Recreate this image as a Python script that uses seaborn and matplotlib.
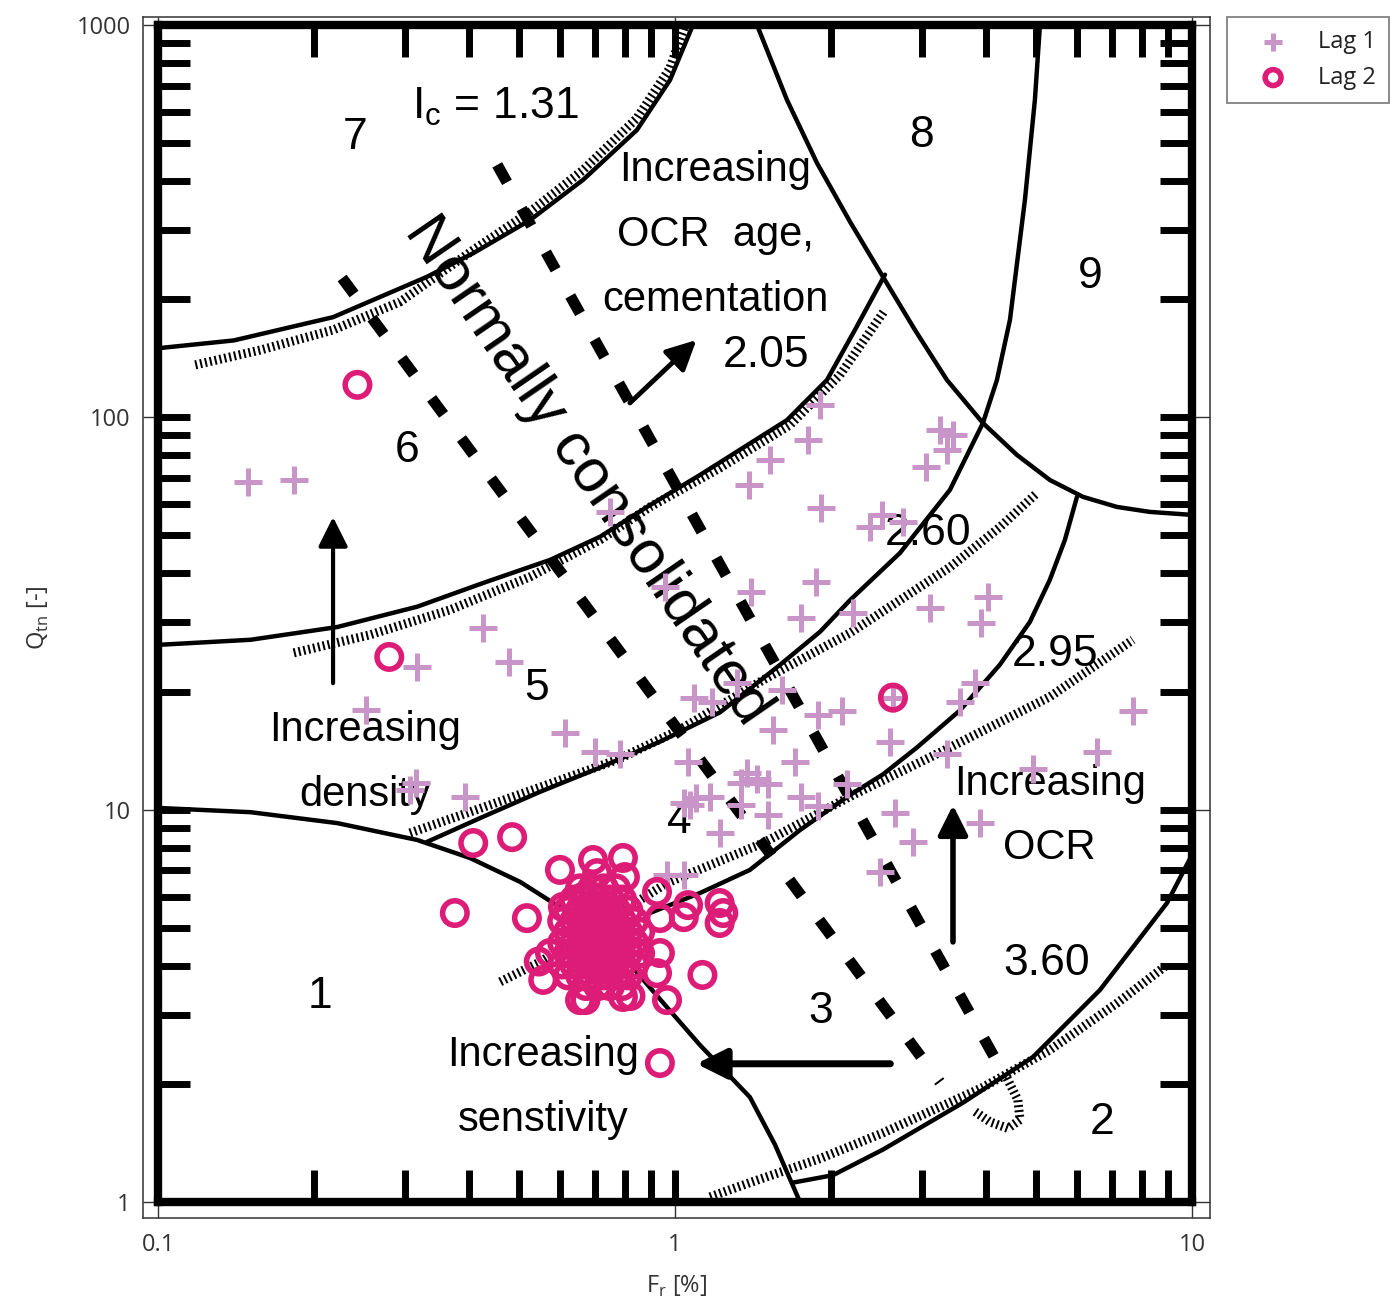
import matplotlib
matplotlib.use("Agg")
import matplotlib.pyplot as plt
from matplotlib.ticker import FixedLocator, NullLocator, FixedFormatter
import seaborn as sns

sns.set_style("white")
plt.rcParams["font.family"] = ["Open Sans", "DejaVu Sans"]

# ---- CPT data: friction ratio Fr [%] and normalised cone resistance Qtn [-]
lag1_fr = [0.149, 0.183, 0.253, 0.317, 0.425, 0.478, 0.307, 0.316, 0.393, 0.613,
           0.700, 0.783, 0.749, 0.956, 1.91, 1.81, 1.53, 1.39, 1.92, 2.38,
           2.51, 2.76, 3.25, 3.45, 3.36, 3.06, 1.40, 1.87, 1.75, 2.21,
           3.11, 4.03, 3.91, 1.32, 1.61, 1.09, 1.18, 1.55, 1.89, 2.10,
           2.64, 3.80, 3.56, 2.61, 3.36, 4.93, 6.55, 7.69, 1.06, 1.71,
           1.38, 1.44, 1.34, 1.51, 1.75, 1.89, 2.15, 1.51, 1.34, 1.04,
           1.10, 1.17, 1.22, 2.67, 2.89, 3.89, 2.49, 0.965, 1.04, 1.07]
lag1_qtn = [68.4, 69.2, 17.9, 23.1, 29.0, 23.8, 11.2, 11.7, 10.8, 15.7,
            14.0, 13.9, 57.4, 36.9, 107.5, 87.5, 77.8, 67.2, 58.7, 52.5,
            56.4, 54.1, 92.8, 90.1, 82.5, 74.7, 35.9, 38.0, 30.8, 31.7,
            32.7, 34.8, 29.9, 21.0, 20.2, 19.3, 18.8, 16.0, 17.4, 17.8,
            19.3, 21.0, 18.8, 14.9, 13.9, 12.7, 14.0, 17.8, 13.2, 13.2,
            12.4, 12.0, 11.7, 11.6, 10.8, 10.2, 11.6, 9.69, 10.3, 10.4,
            10.7, 10.8, 8.72, 9.80, 8.27, 9.24, 6.93, 6.81, 6.81, 10.3]

lag2_fr = [0.243, 0.280, 0.407, 0.484, 0.375, 0.517, 2.64, 0.935, 0.965, 1.13,
           1.06, 1.04, 1.22, 1.24, 1.22, 0.923, 0.935, 0.935, 0.923, 0.599,
           0.694, 0.793, 0.707, 0.800, 0.556, 0.655, 0.671, 0.793, 0.573, 0.607,
           0.664, 0.820, 0.545,
           0.655, 0.691, 0.729, 0.769,
           0.638, 0.673, 0.710, 0.749, 0.790,
           0.621, 0.655, 0.691, 0.729, 0.769, 0.812,
           0.605, 0.638, 0.673, 0.710, 0.749, 0.790, 0.834,
           0.621, 0.655, 0.691, 0.729, 0.769, 0.812, 0.856,
           0.605, 0.638, 0.673, 0.710, 0.749, 0.790, 0.834,
           0.621, 0.655, 0.691, 0.729, 0.769, 0.812, 0.856,
           0.605, 0.638, 0.673, 0.710, 0.749, 0.790, 0.834,
           0.621, 0.655, 0.691, 0.729, 0.769, 0.812,
           0.673, 0.710, 0.749, 0.790]
lag2_qtn = [121, 24.5, 8.22, 8.51, 5.45, 5.29, 19.3, 2.26, 3.27, 3.79,
            5.71, 5.32, 5.78, 5.45, 5.14, 6.17, 5.29, 4.31, 3.83, 7.02,
            7.44, 7.53, 6.89, 6.73, 3.68, 3.27, 3.27, 3.33, 4.31, 5.65,
            5.99, 3.35, 4.10,
            6.30, 6.30, 6.30, 6.30,
            5.90, 5.90, 5.90, 5.90, 5.90,
            5.55, 5.55, 5.55, 5.55, 5.55, 5.55,
            5.20, 5.20, 5.20, 5.20, 5.20, 5.20, 5.20,
            4.88, 4.88, 4.88, 4.88, 4.88, 4.88, 4.88,
            4.58, 4.58, 4.58, 4.58, 4.58, 4.58, 4.58,
            4.30, 4.30, 4.30, 4.30, 4.30, 4.30, 4.30,
            4.03, 4.03, 4.03, 4.03, 4.03, 4.03, 4.03,
            3.78, 3.78, 3.78, 3.78, 3.78, 3.78,
            3.55, 3.55, 3.55, 3.55]

# ---- background classification chart (solid zone boundaries)
bound_7_fr = [0.1, 0.140, 0.218, 0.331, 0.407, 0.524, 0.664, 0.844, 0.978, 1.083]
bound_7_q = [150, 157, 180, 228, 262, 318, 403, 540, 724, 1000]
bound_6_fr = [0.1, 0.151, 0.222, 0.317, 0.425, 0.573, 0.716, 0.883, 1.118, 1.647, 1.968, 2.229, 2.548]
bound_6_q = [26.3, 27.1, 29.2, 32.9, 37.8, 43.3, 49.6, 59.1, 71.3, 98.4, 124.5, 167, 231]
bound_5_fr = [0.331, 0.420, 0.548, 0.716, 0.935, 1.222, 1.597, 1.908, 2.181, 2.724, 3.403,
              3.942, 4.196, 4.446, 4.753, 4.969, 5.082]
bound_5_q = [8.27, 9.52, 11.1, 12.8, 14.9, 17.7, 23.4, 28.4, 34.2, 45.1, 65.3,
             96.7, 124.5, 177, 358, 644, 1000]
bound_4_fr = [5.994, 5.68, 5.31, 4.86, 4.25, 3.558, 2.938, 2.526, 2.181, 1.745, 1.396, 1.118, 0.875]
bound_4_q = [62.7, 48.7, 38.5, 30.1, 23.4, 17.9, 14.4, 12.3, 10.9, 8.87, 7.02, 6.13, 5.39]
bound_1_fr = [0.1, 0.151, 0.222, 0.317, 0.401, 0.502, 0.628, 0.783, 0.956, 1.118, 1.396, 1.561, 1.745]
bound_1_q = [10.1, 9.85, 9.24, 8.37, 7.53, 6.54, 5.42, 4.31, 3.18, 2.51, 1.85, 1.40, 1.0]
bound_2_fr = [1.691, 2.021, 2.526, 3.606, 4.925, 6.64, 8.95, 10.0]
bound_2_q = [1.12, 1.17, 1.36, 1.79, 2.34, 3.47, 5.78, 7.66]
bound_8_fr = [1.441, 1.647, 1.882, 2.181, 2.526, 2.912, 3.358, 3.942, 4.586, 5.313,
              6.155, 7.16, 8.29, 10.0]
bound_8_q = [1000, 644, 445, 315, 228, 167, 124.5, 96.7, 80.2, 69.2,
             62.7, 59.1, 57.4, 56.4]

# hatched Ic contours
ic131_fr = [0.118, 0.158, 0.218, 0.294, 0.331, 0.407, 0.524, 0.664, 0.844, 0.978, 1.041]
ic131_q = [136, 148.5, 167, 197, 220, 267, 334, 427, 579, 777, 983]
ic205_fr = [0.183, 0.257, 0.367, 0.524, 0.716, 0.895, 1.222, 1.669, 2.085, 2.548]
ic205_q = [25.1, 27.9, 32.3, 39.2, 48.7, 59.1, 74.3, 95.6, 128.2, 187.7]
ic260_fr = [0.307, 0.401, 0.548, 0.773, 1.023, 1.48, 2.181, 2.724, 3.403, 4.252, 5.014]
ic260_q = [8.72, 9.86, 11.4, 13.4, 16.0, 21.4, 28.2, 34.2, 41.5, 52.5, 64.1]
ic295_fr = [0.459, 0.548, 0.716, 0.965, 1.169, 1.48, 2.181, 3.403, 5.313, 7.69]
ic295_q = [3.64, 4.09, 5.08, 6.50, 7.22, 8.22, 10.8, 14.4, 19.4, 27.1]
ic360_fr = [1.169, 1.396, 1.908, 2.526, 3.942, 5.313, 7.16, 8.95]
ic360_q = [1.03, 1.12, 1.29, 1.50, 1.96, 2.44, 3.21, 4.02]
curl_fr = [4.386, 4.606, 4.65, 4.406, 4.067, 3.804]
curl_q = [2.07, 1.82, 1.62, 1.54, 1.60, 1.70]

# normally consolidated band (thick dashed)
nc_fr = [[0.227, 3.254], [0.453, 4.386]]
nc_q = [[226.5, 2.02], [440, 2.05]]

zone_labels = ["1", "2", "3", "4", "5", "6", "7", "8", "9"]
zone_fr = [0.206, 6.70, 1.91, 1.02, 0.541, 0.303, 0.240, 3.00, 6.35]
zone_q = [3.33, 1.59, 3.05, 9.30, 20.4, 82.5, 518, 524, 228]

ic_labels = ["I$_\\mathregular{c}$ = 1.31", "2.05", "2.60", "2.95", "3.60"]
ic_fr = [0.4485, 1.50, 3.09, 5.43, 5.24]
ic_q = [620, 144, 50.7, 24.8, 4.06]

note_labels = ["Increasing\nOCR  age,\ncementation", "Increasing\ndensity",
               "Increasing\nOCR", "Increasing\nsenstivity"]
note_fr = [1.195, 0.251, 5.31, 0.556]
note_q = [292, 13.2, 9.63, 1.96]

arrow_tail_fr = [0.218, 0.818, 2.61, 3.45]
arrow_tail_q = [21.0, 108.8, 2.25, 4.60]
arrow_tip_fr = [0.218, 1.10, 1.10, 3.45]
arrow_tip_q = [55.7, 157.4, 2.25, 10.27]
arrow_lw = [3.0, 3.5, 5.0, 4.0]

frame_x_ticks = [0.2, 0.3, 0.4, 0.5, 0.6, 0.7, 0.8, 0.9, 1, 2, 3, 4, 5, 6, 7, 8, 9]
frame_y_ticks = [2, 3, 4, 5, 6, 7, 8, 9, 10, 20, 30, 40, 50, 60, 70, 80, 90,
                 100, 200, 300, 400, 500, 600, 700, 800, 900]

chart_font = ["Liberation Sans", "DejaVu Sans"]
c_lag1 = "#c994c7"
c_lag2 = "#dd1c77"

fig = plt.figure(figsize=(13.94, 13.08), dpi=100)
ax = fig.add_axes([0.1026, 0.0688, 0.7654, 0.9182])
ax.set_xscale("log")
ax.set_yscale("log")
ax.set_xlim(0.0935, 10.84)
ax.set_ylim(0.91, 1048)

# thick frame of the background chart
frame = ax.inset_axes([0.1, 1, 9.9, 999], transform=ax.transData, zorder=1.5)
frame.set_xscale("log")
frame.set_yscale("log")
frame.set_xlim(0.1, 10)
frame.set_ylim(1, 1000)
frame.patch.set_visible(False)
for sp in frame.spines.values():
    sp.set_linewidth(6)
    sp.set_color("black")
frame.xaxis.set_major_locator(FixedLocator(frame_x_ticks))
frame.xaxis.set_minor_locator(NullLocator())
frame.yaxis.set_major_locator(FixedLocator(frame_y_ticks))
frame.yaxis.set_minor_locator(NullLocator())
frame.tick_params(direction="in", length=23, width=5, color="black",
                  bottom=True, left=True, top=True, right=True,
                  labelbottom=False, labelleft=False)

# solid boundaries
for fr, q in [(bound_7_fr, bound_7_q), (bound_6_fr, bound_6_q), (bound_5_fr, bound_5_q),
              (bound_4_fr, bound_4_q), (bound_1_fr, bound_1_q), (bound_2_fr, bound_2_q),
              (bound_8_fr, bound_8_q)]:
    ax.plot(fr, q, color="black", lw=3.2, zorder=2, solid_joinstyle="round")

# hatched Ic lines
for fr, q in [(ic131_fr, ic131_q), (ic205_fr, ic205_q), (ic260_fr, ic260_q),
              (ic295_fr, ic295_q), (ic360_fr, ic360_q), (curl_fr, curl_q)]:
    ax.plot(fr, q, color="black", lw=6.5, linestyle=(0, (0.22, 0.33)),
            dash_capstyle="butt", zorder=2)

for fr, q in zip(nc_fr, nc_q):
    ax.plot(fr, q, color="black", lw=8, linestyle=(0, (1.8, 2.7)),
            dash_capstyle="butt", zorder=2)

for s, x, y in zip(zone_labels, zone_fr, zone_q):
    ax.text(x, y, s, fontsize=32, family=chart_font, color="black",
            ha="center", va="center", zorder=3)
for s, x, y in zip(ic_labels, ic_fr, ic_q):
    ax.text(x, y, s, fontsize=32, family=chart_font, color="black",
            ha="center", va="center", zorder=3)
for s, x, y in zip(note_labels, note_fr, note_q):
    ax.text(x, y, s, fontsize=30, family=chart_font, color="black", ha="center",
            va="center", multialignment="center", linespacing=1.8, zorder=3)
ax.text(0.676, 72.9, "Normally consolidated", fontsize=44, family=chart_font,
        color="black", rotation=-55.5, rotation_mode="anchor",
        ha="center", va="center", zorder=3)

for x0, y0, x1, y1, lw in zip(arrow_tail_fr, arrow_tail_q, arrow_tip_fr, arrow_tip_q, arrow_lw):
    ax.annotate("", xy=(x1, y1), xytext=(x0, y0), zorder=3,
                arrowprops=dict(arrowstyle="-|>", color="black", lw=lw,
                                mutation_scale=45, shrinkA=0, shrinkB=0))

# data points
sns.scatterplot(x=lag1_fr, y=lag1_qtn, marker="+", s=380, color=c_lag1,
                linewidth=3.6, label="Lag 1", zorder=4, ax=ax)
sns.scatterplot(x=lag2_fr, y=lag2_qtn, marker="o", s=310, color=c_lag2,
                facecolor="none", edgecolor=c_lag2, linewidth=4.0,
                label="Lag 2", zorder=5, ax=ax)

# thin outer axes
for sp in ax.spines.values():
    sp.set_color("#333333")
    sp.set_linewidth(1.1)
ax.xaxis.set_major_locator(FixedLocator([0.1, 1, 10]))
ax.xaxis.set_major_formatter(FixedFormatter(["0.1", "1", "10"]))
ax.xaxis.set_minor_locator(NullLocator())
ax.yaxis.set_major_locator(FixedLocator([1, 10, 100, 1000]))
ax.yaxis.set_major_formatter(FixedFormatter(["1", "10", "100", "1000"]))
ax.yaxis.set_minor_locator(NullLocator())
ax.tick_params(which="major", direction="in", length=10.5, width=1, color="#333333",
               labelcolor="#333333", labelsize=17,
               bottom=True, left=True, top=True, right=True)
ax.tick_params(axis="x", pad=11)
ax.tick_params(axis="y", pad=9)
ax.set_xlabel("F$_\\mathregular{r}$ [%]", fontsize=17, color="#333333", labelpad=12)
ax.set_ylabel("Q$_\\mathregular{tn}$ [-]", fontsize=17, color="#333333", labelpad=18)

leg = ax.legend(loc="upper left", bbox_to_anchor=(1.016, 1.0), borderaxespad=0,
                frameon=True, fancybox=False, edgecolor="#555555", fontsize=17,
                handlelength=2.8, handletextpad=0.5, borderpad=0.55,
                labelspacing=0.5, markerscale=0.65)
leg.get_frame().set_linewidth(1.2)
for t in leg.get_texts():
    t.set_color("#222222")

fig.savefig("out.png", dpi=100)
